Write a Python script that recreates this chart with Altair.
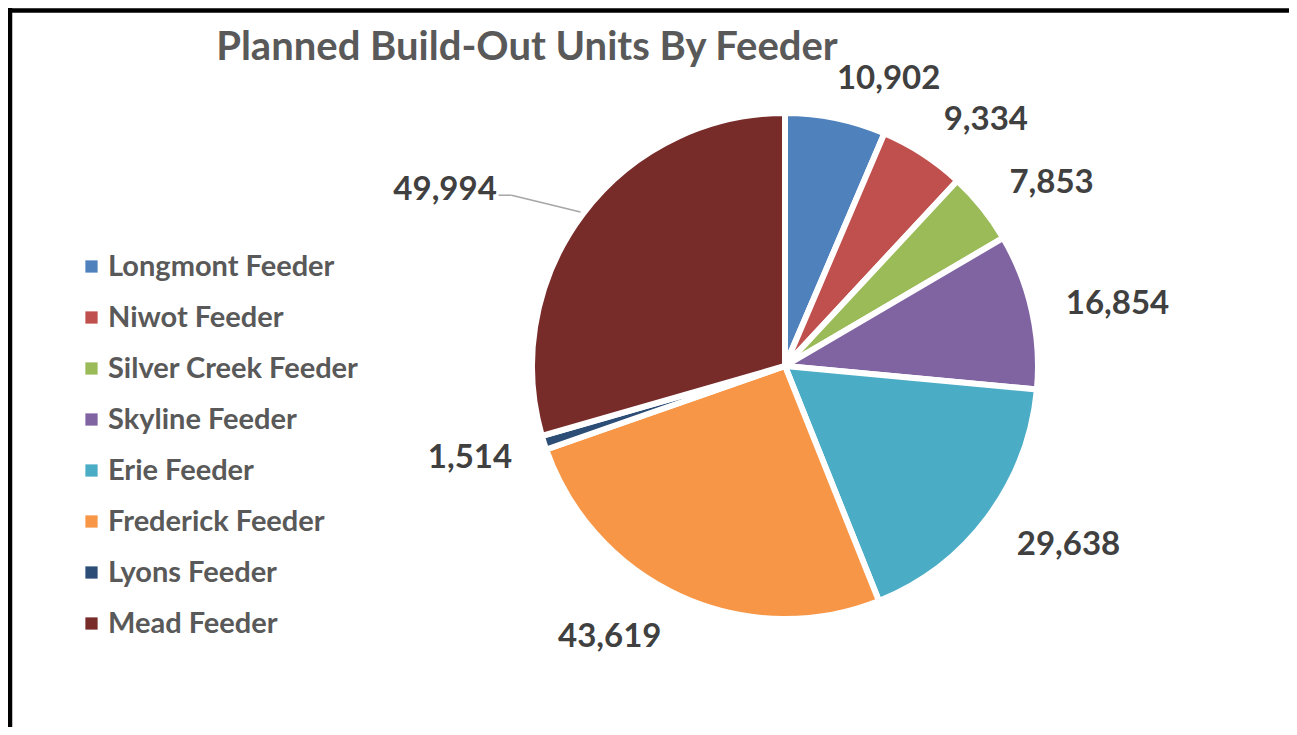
import math
import altair as alt
import pandas as pd

feeders = ["Longmont Feeder", "Niwot Feeder", "Silver Creek Feeder", "Skyline Feeder",
           "Erie Feeder", "Frederick Feeder", "Lyons Feeder", "Mead Feeder"]
units = [10902, 9334, 7853, 16854, 29638, 43619, 1514, 49994]
colors = ["#4F81BD", "#C0504D", "#9BBB59", "#8064A2", "#4BACC6", "#F79646", "#2C4D75", "#772C2A"]
title_text = "Planned Build-Out Units By Feeder"

df = pd.DataFrame({"feeder": feeders, "units": units, "order": list(range(len(feeders)))})
df["label"] = [f"{u:,}" for u in units]

PADL = 8
W, H = 1273, 719
CX, CY, R = 769, 358, 253
R0 = 280          # distance of the label anchor from the pie centre
PI2 = 2 * math.pi

base = alt.Chart(df).encode(order=alt.Order("order:Q"))

pie = base.mark_arc(outerRadius=R, stroke="white", strokeWidth=6).encode(
    theta=alt.Theta("units:Q", stack=True),
    x=alt.value(CX), y=alt.value(CY),
    color=alt.Color("feeder:N", sort=feeders,
                    scale=alt.Scale(domain=feeders, range=colors),
                    legend=alt.Legend(title=None, orient="none", legendX=61, legendY=244,
                                      symbolType="square", symbolSize=150,
                                      symbolStrokeWidth=0,
                                      labelFont="Lato", labelFontWeight="bold",
                                      labelFontSize=29, labelColor="#595959",
                                      rowPadding=21, labelOffset=2, labelLimit=400)),
)

# label placement (Excel "outside end"): box sits just outside the slice along its mid angle
lab = base.transform_joinaggregate(
    total="sum(units)"
).transform_window(
    cum="sum(units)", sort=[alt.SortField("order")], frame=[None, 0]
).transform_calculate(
    mid="(datum.cum - datum.units / 2) / datum.total * 2 * PI",
    sx="clamp(sin(datum.mid) * 4, -1, 1) * 1.15",
    sy="clamp(-cos(datum.mid) * 1.3, -1.2, 1.2)",
    hw="(length(datum.label) - 1) * 9.6 + 3.5",
    hh="12",
    extra="datum.feeder == 'Mead Feeder' ? 57 : 0",
    px=f"{R0} * sin(datum.mid) + datum.hw * datum.sx - datum.extra",
    py=f"-{R0} * cos(datum.mid) + datum.hh * datum.sy + 2",
    tt="atan2(datum.px, -datum.py) < 0 ? atan2(datum.px, -datum.py) + 2 * PI : atan2(datum.px, -datum.py)",
    rr="sqrt(datum.px * datum.px + datum.py * datum.py)",
)

labels = lab.mark_text(font="Lato", fontWeight="bold", fontSize=33,
                       color="#404040", align="center", baseline="middle").encode(
    theta=alt.Theta("tt:Q", stack=False, scale=alt.Scale(domain=[0, PI2], range=[0, PI2])),
    radius=alt.Radius("rr:Q", scale=alt.Scale(type="linear", domain=[0, 1000], range=[0, 1000])),
    x=alt.value(CX), y=alt.value(CY),
    text="label:N",
)

leader_src = lab.transform_filter(alt.datum.extra > 0).transform_calculate(
    ax=f"{CX} + {R + 3} * sin(datum.mid)",
    ay=f"{CY} - {R + 3} * cos(datum.mid)",
    cx_=f"{CX} + datum.px + datum.hw + 2",
    cy_=f"{CY} + datum.py + 5",
    bx="datum.cx_ + 13",
)
leader1 = leader_src.mark_rule(color="#A6A6A6", strokeWidth=1.5).encode(
    x=alt.X("ax:Q", scale=None), y=alt.Y("ay:Q", scale=None),
    x2="bx:Q", y2="cy_:Q")
leader2 = leader_src.mark_rule(color="#A6A6A6", strokeWidth=1.5).encode(
    x=alt.X("bx:Q", scale=None), y=alt.Y("cy_:Q", scale=None),
    x2="cx_:Q", y2="cy_:Q")

title = alt.Chart(pd.DataFrame({"t": [title_text]})).mark_text(
    font="Lato", fontWeight="bold", fontSize=40, color="#595959",
    align="center", baseline="middle").encode(
    x=alt.value(511), y=alt.value(40), text="t:N")

top_border = alt.Chart(pd.DataFrame({"t": [0]})).mark_rule(color="black", strokeWidth=4.5).encode(
    x=alt.value(-PADL), x2=alt.value(W), y=alt.value(2.4))
left_border = alt.Chart(pd.DataFrame({"t": [0]})).mark_rule(color="black", strokeWidth=4.5).encode(
    x=alt.value(-6), y=alt.value(0), y2=alt.value(H))

chart = alt.layer(pie, labels, leader1, leader2, title, top_border, left_border).resolve_scale(
    theta="independent", radius="independent", x="independent", y="independent"
).properties(
    width=W, height=H,
    autosize=alt.AutoSizeParams(type="none"),
    padding={"left": PADL, "top": 0, "right": 0, "bottom": 0},
).configure_view(stroke=None)

chart.save("out.html", embed_options={"renderer": "svg", "actions": False})
